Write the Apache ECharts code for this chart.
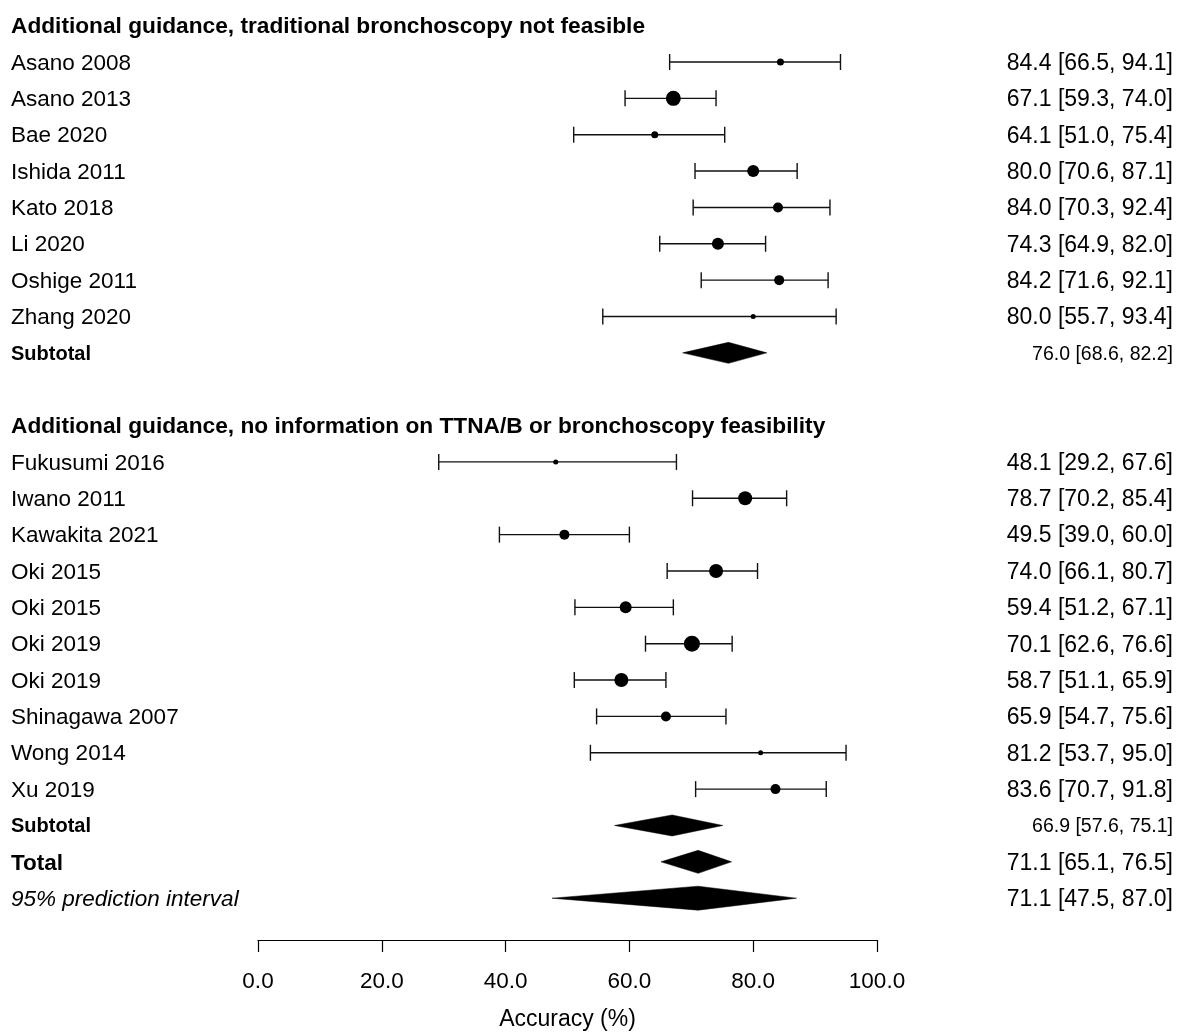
<!DOCTYPE html>
<html>
<head>
<meta charset="utf-8">
<script src="https://cdn.jsdelivr.net/npm/echarts@6/dist/echarts.min.js"></script>
<style>
html,body{margin:0;padding:0;background:#fff;overflow:hidden;}
#chart{width:1177px;height:1032px;}
</style>
</head>
<body>
<div id="chart"></div>
<script>
// ---- Data ----
const header1 = 'Additional guidance, traditional bronchoscopy not feasible';
const group1Names = ['Asano 2008','Asano 2013','Bae 2020','Ishida 2011','Kato 2018','Li 2020','Oshige 2011','Zhang 2020'];
const group1Est = [84.4, 67.1, 64.1, 80.0, 84.0, 74.3, 84.2, 80.0];
const group1Lo  = [66.5, 59.3, 51.0, 70.6, 70.3, 64.9, 71.6, 55.7];
const group1Hi  = [94.1, 74.0, 75.4, 87.1, 92.4, 82.0, 92.1, 93.4];
const group1Weight = [7, 15, 7, 12, 10, 12, 10, 5];
const subtotal1 = [76.0, 68.6, 82.2];

const header2 = 'Additional guidance, no information on TTNA/B or bronchoscopy feasibility';
const group2Names = ['Fukusumi 2016','Iwano 2011','Kawakita 2021','Oki 2015','Oki 2015','Oki 2019','Oki 2019','Shinagawa 2007','Wong 2014','Xu 2019'];
const group2Est = [48.1, 78.7, 49.5, 74.0, 59.4, 70.1, 58.7, 65.9, 81.2, 83.6];
const group2Lo  = [29.2, 70.2, 39.0, 66.1, 51.2, 62.6, 51.1, 54.7, 53.7, 70.7];
const group2Hi  = [67.6, 85.4, 60.0, 80.7, 67.1, 76.6, 65.9, 75.6, 95.0, 91.8];
const group2Weight = [5, 14, 10, 14, 12, 16, 14, 10, 5, 10];
const subtotal2 = [66.9, 57.6, 75.1];

const total = [71.1, 65.1, 76.5];
const predInterval = [71.1, 47.5, 87.0];

const xTicks = [0, 20, 40, 60, 80, 100];

// ---- Build rows ----
const rows = [];
let pos = 0;
function fmt(a){ return a[0].toFixed(1) + ' [' + a[1].toFixed(1) + ', ' + a[2].toFixed(1) + ']'; }
rows.push({type:'header', name: header1, pos: pos++});
group1Names.forEach((n,i)=>rows.push({type:'study', name:n, est:group1Est[i], lo:group1Lo[i], hi:group1Hi[i], w:group1Weight[i], pos:pos++}));
rows.push({type:'subtotal', name:'Subtotal', est:subtotal1[0], lo:subtotal1[1], hi:subtotal1[2], pos:pos++});
pos++;
rows.push({type:'header', name: header2, pos: pos++});
group2Names.forEach((n,i)=>rows.push({type:'study', name:n, est:group2Est[i], lo:group2Lo[i], hi:group2Hi[i], w:group2Weight[i], pos:pos++}));
rows.push({type:'subtotal', name:'Subtotal', est:subtotal2[0], lo:subtotal2[1], hi:subtotal2[2], pos:pos++});
rows.push({type:'total', name:'Total', est:total[0], lo:total[1], hi:total[2], pos:pos++});
rows.push({type:'pi', name:'95% prediction interval', est:predInterval[0], lo:predInterval[1], hi:predInterval[2], pos:pos++});

const FONT = '"Liberation Sans", Arial, Helvetica, sans-serif';
const LEFT_X = 11, RIGHT_X = 1173, TEXT_DY = 1.5;

function renderItem(params, api){
  const r = rows[params.dataIndex];
  const y = api.coord([0, r.pos])[1];
  const children = [];
  let leftFont = '22.5px ' + FONT;
  if (r.type === 'header') leftFont = 'bold 22.7px ' + FONT;
  if (r.type === 'subtotal') leftFont = 'bold 20px ' + FONT;
  if (r.type === 'total') leftFont = 'bold 22.5px ' + FONT;
  if (r.type === 'pi') leftFont = 'italic 22.5px ' + FONT;
  children.push({type:'text', x: LEFT_X, y: y + TEXT_DY, style:{text: r.name, fill:'#000', font: leftFont, align:'left', verticalAlign:'middle'}});
  if (r.type !== 'header') {
    const xl = api.coord([r.lo, r.pos])[0];
    const xh = api.coord([r.hi, r.pos])[0];
    const xe = api.coord([r.est, r.pos])[0];
    const rightFont = (r.type === 'subtotal' ? '19.5px ' : '23px ') + FONT;
    children.push({type:'text', x: RIGHT_X, y: y + TEXT_DY, style:{text: fmt([r.est, r.lo, r.hi]), fill:'#000', font: rightFont, align:'right', verticalAlign:'middle'}});
    if (r.type === 'study') {
      const ls = {stroke:'#111', lineWidth:1.4};
      children.push({type:'line', shape:{x1:xl, y1:y, x2:xh, y2:y}, style:ls});
      children.push({type:'line', shape:{x1:xl, y1:y-8, x2:xl, y2:y+8}, style:ls});
      children.push({type:'line', shape:{x1:xh, y1:y-8, x2:xh, y2:y+8}, style:ls});
      children.push({type:'circle', shape:{cx:xe, cy:y, r:r.w/2}, style:{fill:'#000'}});
    } else {
      const h = r.type === 'pi' ? 24 : (r.type === 'total' ? 23 : 21);
      children.push({type:'polygon', shape:{points:[[xl,y],[xe,y-h/2],[xh,y],[xe,y+h/2]]}, style:{fill:'#000', stroke:'#000', lineWidth:0.5}});
    }
  }
  return {type:'group', children: children};
}

const chart = echarts.init(document.getElementById('chart'), null, {renderer:'canvas', width:1177, height:1032});
chart.setOption({
  animation: false,
  backgroundColor: '#fff',
  grid: {left: 258, width: 619, top: 25.65, height: 914.35, containLabel: false, outerBoundsMode: 'none'},
  xAxis: {
    type: 'value', min: xTicks[0], max: xTicks[xTicks.length-1], interval: 20,
    position: 'bottom',
    name: 'Accuracy (%)', nameLocation: 'middle', nameGap: 68,
    nameTextStyle: {fontSize: 23, color:'#000', fontFamily: FONT},
    axisLine: {show: true, onZero: false, lineStyle: {color:'#000', width: 1.2}},
    axisTick: {show: true, length: 12, inside: false, lineStyle: {color:'#000', width: 1.2}},
    axisLabel: {fontSize: 22.5, color:'#000', fontFamily: FONT, margin: 30, formatter: v => v.toFixed(1)},
    splitLine: {show: false}
  },
  yAxis: {type: 'value', min: 0, max: 25.15, inverse: true, show: false},
  series: [{
    type: 'custom',
    renderItem: renderItem,
    clip: false,
    encode: {x: 0, y: 1},
    data: rows.map(r => [r.type === 'header' ? 0 : r.est, r.pos])
  }]
});
</script>
</body>
</html>
